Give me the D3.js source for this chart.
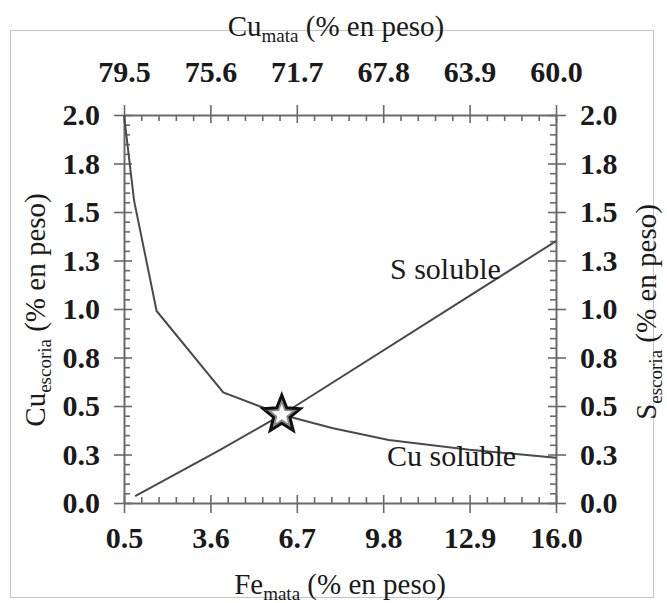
<!DOCTYPE html>
<html>
<head>
<meta charset="utf-8">
<script src="https://cdn.jsdelivr.net/npm/d3@7"></script>
</head>
<body style="margin:0">
<svg id="slag-figure" width="667" height="603"></svg>
<script>
// Fe in matte (% wt) on the bottom axis, Cu in matte on the top axis
const feTicks = [0.5, 3.6, 6.7, 9.8, 12.9, 16.0];
const feTickLabels = ["0.5", "3.6", "6.7", "9.8", "12.9", "16.0"];
const cuMatteTicks = [79.5, 75.6, 71.7, 67.8, 63.9, 60.0];
const cuMatteTickLabels = ["79.5", "75.6", "71.7", "67.8", "63.9", "60.0"];
// slag concentration (% wt), shared by the left (Cu) and right (S) axes
const slagTicks = [0, 0.25, 0.5, 0.75, 1.0, 1.25, 1.5, 1.75, 2.0];
const slagTickLabels = ["0.0", "0.3", "0.5", "0.8", "1.0", "1.3", "1.5", "1.8", "2.0"];

// soluble copper in slag vs Fe in matte
const cuFe   = [0.5, 0.86, 1.67, 4.06, 6.16, 8.0, 10.0, 12.9, 16.0];
const cuSlag = [2.0, 1.56, 0.99, 0.57, 0.455, 0.385, 0.325, 0.275, 0.233];
// soluble sulphur in slag vs Fe in matte
const sFe   = [0.9, 3.9, 6.16, 16.0];
const sSlag = [0.035, 0.27, 0.455, 1.35];
// point where both curves cross
const crossFe = 6.16, crossSlag = 0.455;

const FONT = "'Liberation Serif'";
const INK = "#1a1a1a";

const svg = d3.select("#slag-figure");
const X0 = 124, X1 = 556, Y0 = 115, Y1 = 503;

const x = d3.scaleLinear().domain([0.5, 16.0]).range([X0, X1]);
const xTop = d3.scaleLinear().domain([79.5, 60.0]).range([X0, X1]);
const y = d3.scaleLinear().domain([0, 2]).range([Y1, Y0]);

// light frame around the figure
svg.append("rect").attr("x", 10.5).attr("y", 30.5).attr("width", 643).attr("height", 567)
  .attr("fill", "none").attr("stroke", "#c4c4c4").attr("stroke-width", 1);

const AX = "#6a6a6a";
const MAJ_OUT = 10, MAJ_IN = 8, MIN_IN = 6;

function minorBetween(majors) {
  const out = [];
  for (let i = 0; i < majors.length - 1; i++) {
    const a = majors[i], b = majors[i + 1];
    for (let k = 1; k < 5; k++) out.push(a + (b - a) * k / 5);
  }
  return out;
}
const xMinor = minorBetween(feTicks);
const yMinor = minorBetween(slagTicks);

function styleAxis(g) {
  g.attr("font-family", null).attr("font-size", null);
  g.selectAll(".domain").attr("stroke", AX).attr("stroke-width", 2);
  g.selectAll(".tick line").attr("stroke", AX).attr("stroke-width", 1.6);
  g.selectAll(".tick text").attr("font-size", 30).attr("font-weight", "bold").attr("fill", INK);
}

// bottom axis
const gB = svg.append("g").attr("transform", `translate(0,${Y1})`);
gB.call(d3.axisBottom(x).tickValues(feTicks).tickSizeInner(MAJ_OUT).tickSizeOuter(0)
  .tickPadding(14).tickFormat((d, i) => feTickLabels[i]));
gB.append("g").call(d3.axisBottom(x).tickValues(feTicks).tickSize(-MAJ_IN).tickFormat(""))
  .select(".domain").remove();
gB.append("g").call(d3.axisBottom(x).tickValues(xMinor).tickSize(-MIN_IN).tickFormat(""))
  .select(".domain").remove();
styleAxis(gB);

// top axis
const gT = svg.append("g").attr("transform", `translate(0,${Y0})`);
gT.call(d3.axisTop(xTop).tickValues(cuMatteTicks).tickSizeInner(MAJ_OUT).tickSizeOuter(0)
  .tickPadding(23).tickFormat((d, i) => cuMatteTickLabels[i]));
gT.append("g").call(d3.axisTop(xTop).tickValues(cuMatteTicks).tickSize(-MAJ_IN).tickFormat(""))
  .select(".domain").remove();
gT.append("g").call(d3.axisTop(x).tickValues(xMinor).tickSize(-MIN_IN).tickFormat(""))
  .select(".domain").remove();
styleAxis(gT);

// left axis
const gL = svg.append("g").attr("transform", `translate(${X0},0)`);
gL.call(d3.axisLeft(y).tickValues(slagTicks).tickSizeInner(MAJ_OUT).tickSizeOuter(0)
  .tickPadding(14).tickFormat((d, i) => slagTickLabels[i]));
gL.append("g").call(d3.axisLeft(y).tickValues(slagTicks).tickSize(-MAJ_IN).tickFormat(""))
  .select(".domain").remove();
gL.append("g").call(d3.axisLeft(y).tickValues(yMinor).tickSize(-MIN_IN).tickFormat(""))
  .select(".domain").remove();
styleAxis(gL);

// right axis
const gR = svg.append("g").attr("transform", `translate(${X1},0)`);
gR.call(d3.axisRight(y).tickValues(slagTicks).tickSizeInner(MAJ_OUT).tickSizeOuter(0)
  .tickPadding(14).tickFormat((d, i) => slagTickLabels[i]));
gR.append("g").call(d3.axisRight(y).tickValues(slagTicks).tickSize(-MAJ_IN).tickFormat(""))
  .select(".domain").remove();
gR.append("g").call(d3.axisRight(y).tickValues(yMinor).tickSize(-MIN_IN).tickFormat(""))
  .select(".domain").remove();
styleAxis(gR);

// curves
const line = d3.line().x(d => x(d[0])).y(d => y(d[1]));
svg.append("path").datum(cuFe.map((v, i) => [v, cuSlag[i]]))
  .attr("d", line).attr("fill", "none").attr("stroke", "#4a4a4a").attr("stroke-width", 2);
svg.append("path").datum(sFe.map((v, i) => [v, sSlag[i]]))
  .attr("d", line).attr("fill", "none").attr("stroke", "#4a4a4a").attr("stroke-width", 2);

// star marker at the crossing
function starPath(cx, cy, R, r) {
  const pts = [];
  for (let k = 0; k < 10; k++) {
    const a = -Math.PI / 2 + k * Math.PI / 5;
    const rad = k % 2 === 0 ? R : r;
    pts.push([cx + rad * Math.cos(a), cy + rad * Math.sin(a)]);
  }
  return "M" + pts.map(p => p.join(",")).join("L") + "Z";
}
const sx = x(crossFe), sy = y(crossSlag);
svg.append("path").attr("d", starPath(sx, sy, 19, 8.3))
  .attr("fill", "#fff").attr("stroke", "#111").attr("stroke-width", 3.4).attr("stroke-linejoin", "miter");
svg.append("path").attr("d", starPath(sx, sy, 13, 5.7))
  .attr("fill", "#fff").attr("stroke", "#8a8a8a").attr("stroke-width", 1.8);

// curve labels
svg.append("text").attr("x", 390).attr("y", 279).attr("font-size", 30).attr("fill", INK).text("S soluble");
svg.append("text").attr("x", 387).attr("y", 466).attr("font-size", 30).attr("fill", INK).text("Cu soluble");

// axis titles with subscripts
function title(main, sub, rest) {
  const t = svg.append("text").attr("font-size", 29).attr("text-anchor", "middle").attr("fill", INK);
  t.append("tspan").text(main);
  t.append("tspan").attr("font-size", 19).attr("dy", 6).text(sub);
  t.append("tspan").attr("dy", -6).text(rest);
  return t;
}
title("Cu", "mata", " (% en peso)").attr("x", 336).attr("y", 36);
title("Fe", "mata", " (% en peso)").attr("x", 340).attr("y", 594);
title("Cu", "escoria", " (% en peso)").attr("transform", "translate(45,310) rotate(-90)");
title("S", "escoria", " (% en peso)").attr("transform", "translate(656,312) rotate(-90)");

// every label in the serif face
svg.selectAll("text, tspan").style("font-family", FONT);
</script>
</body>
</html>
